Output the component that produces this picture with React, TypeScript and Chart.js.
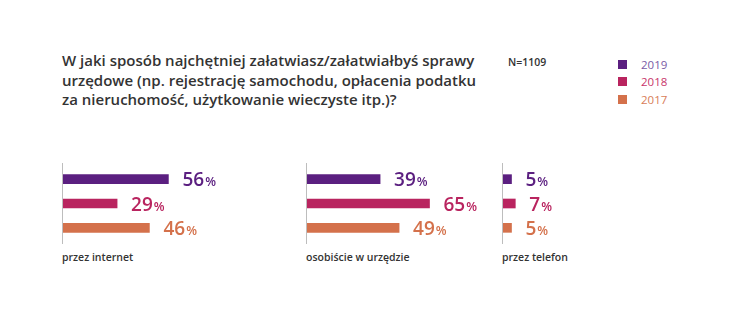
import React, { useEffect, useRef } from "react";
import { Chart, registerables } from "chart.js";

Chart.register(...registerables);

const titleLines = [
  "W jaki sposób najchętniej załatwiasz/załatwiałbyś sprawy",
  "urzędowe (np. rejestrację samochodu, opłacenia podatku",
  "za nieruchomość, użytkowanie wieczyste itp.)?",
];
const sampleNote = "N=1109";
const years = ["2019", "2018", "2017"];
const yearColors = ["#5b1f80", "#b9245f", "#d4714b"];
const legendTextColors = ["#7a5ba6", "#c8346a", "#d87d58"];
const categories = ["przez internet", "osobiście w urzędzie", "przez telefon"];
const values2019 = [56, 39, 5];
const values2018 = [29, 65, 7];
const values2017 = [46, 49, 5];
const panelLefts = [62, 306, 502];

const FONT = "'Open Sans', 'Noto Sans', sans-serif";

const panelPlugin = {
  id: "panelDecor",
  afterDatasetsDraw(chart: any) {
    const ctx = chart.ctx;
    const area = chart.chartArea;
    ctx.save();
    ctx.strokeStyle = "#bdbdbd";
    ctx.lineWidth = 1;
    ctx.beginPath();
    ctx.moveTo(area.left + 0.5, 0);
    ctx.lineTo(area.left + 0.5, chart.height);
    ctx.stroke();
    const ds = chart.data.datasets[0];
    const meta = chart.getDatasetMeta(0);
    meta.data.forEach((bar: any, i: number) => {
      const v = ds.data[i];
      const color = ds.backgroundColor[i];
      const x = bar.x + 14;
      const y = bar.y + 7;
      ctx.fillStyle = color;
      ctx.textBaseline = "alphabetic";
      ctx.textAlign = "left";
      ctx.font = `600 19px ${FONT}`;
      const num = String(v);
      ctx.fillText(num, x, y);
      const w = ctx.measureText(num).width;
      ctx.font = `600 12.5px ${FONT}`;
      ctx.fillText("%", x + w + 1, y);
    });
    ctx.restore();
  },
};

function Panel({ index }: { index: number }) {
  const ref = useRef<HTMLCanvasElement>(null);
  useEffect(() => {
    if (!ref.current) return;
    const vals = [values2019[index], values2018[index], values2017[index]];
    const chart = new Chart(ref.current, {
      type: "bar",
      data: {
        labels: years,
        datasets: [
          {
            data: vals,
            backgroundColor: yearColors,
            barThickness: 9,
          },
        ],
      },
      options: {
        indexAxis: "y",
        animation: false,
        responsive: false,
        maintainAspectRatio: false,
        layout: { padding: { top: 4, bottom: 4, left: 0, right: 0 } },
        plugins: { legend: { display: false }, tooltip: { enabled: false }, title: { display: false } },
        scales: {
          x: { display: false, min: 0, max: 100 },
          y: { display: false },
        },
      },
      plugins: [panelPlugin],
    });
    return () => chart.destroy();
  }, [index]);
  return (
    <>
      <canvas
        ref={ref}
        width={190}
        height={81}
        style={{ position: "absolute", left: panelLefts[index], top: 163, width: 190, height: 81 }}
      />
      <div
        style={{
          position: "absolute",
          left: panelLefts[index],
          top: 250,
          font: `600 10.5px ${FONT}`,
          color: "#333",
          whiteSpace: "nowrap",
        }}
      >
        {categories[index]}
      </div>
    </>
  );
}

export default function App() {
  return (
    <div style={{ position: "absolute", left: 0, top: 0, width: 739, height: 321, background: "#fff", overflow: "hidden" }}>
      <div
        style={{
          position: "absolute",
          left: 62,
          top: 51,
          font: `600 15px ${FONT}`,
          lineHeight: "19.5px",
          color: "#333",
          whiteSpace: "nowrap",
        }}
      >
        {titleLines.map((l, i) => (
          <div key={i}>{l}</div>
        ))}
      </div>
      <div style={{ position: "absolute", left: 508, top: 55, font: `600 10.5px ${FONT}`, color: "#333" }}>{sampleNote}</div>
      {years.map((y, i) => (
        <div key={y} style={{ position: "absolute", left: 618, top: 56 + i * 17.5, height: 16, display: "flex", alignItems: "center" }}>
          <div style={{ width: 9, height: 9, background: yearColors[i] }} />
          <div style={{ marginLeft: 14, font: `400 11.5px ${FONT}`, color: legendTextColors[i] }}>{y}</div>
        </div>
      ))}
      {[0, 1, 2].map((i) => (
        <Panel key={i} index={i} />
      ))}
    </div>
  );
}
